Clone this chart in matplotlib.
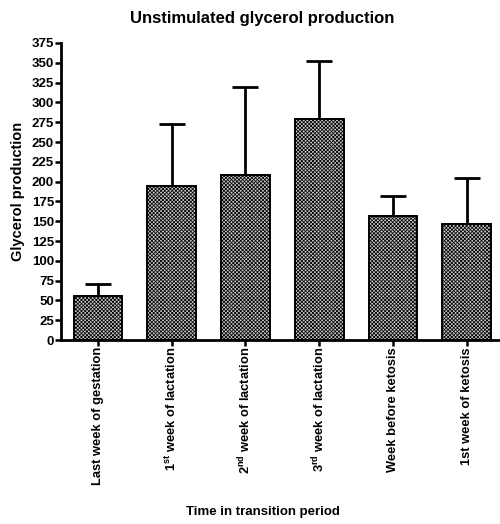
import matplotlib
matplotlib.use("Agg")
import matplotlib.pyplot as plt

plt.rcParams['font.family'] = ['Liberation Sans', 'DejaVu Sans']
plt.rcParams['font.weight'] = 'bold'
plt.rcParams['mathtext.fontset'] = 'custom'
plt.rcParams['mathtext.rm'] = 'Liberation Sans:bold'
plt.rcParams['mathtext.bf'] = 'Liberation Sans:bold'
plt.rcParams['hatch.linewidth'] = 0.55
plt.rcParams['hatch.color'] = '#6a6a6a'

# Mean glycerol production per period, with the upper SD
periods = ["Last week of gestation",
           r"1$^{\mathrm{st}}$ week of lactation",
           r"2$^{\mathrm{nd}}$ week of lactation",
           r"3$^{\mathrm{rd}}$ week of lactation",
           "Week before ketosis",
           "1st week of ketosis"]
means = [56, 194, 208, 279, 156, 146]
sd = [15, 79, 111, 73, 26, 58]

fig = plt.figure(figsize=(5.0, 5.24), dpi=100)
ax = fig.add_axes([0.122, 0.351, 0.878, 0.567])

x = list(range(len(means)))
ax.bar(x, means, width=0.66, color='#c6c6c6', edgecolor='black',
       linewidth=1.4, hatch='xxxxxxxxx', zorder=2)
ax.errorbar(x, means, yerr=[[0] * len(sd), sd], fmt='none', ecolor='black',
            elinewidth=2.0, capsize=9.5, capthick=2.0, zorder=1)

ax.set_xlim(-0.5, 5.45)
ax.set_ylim(0, 375)
ax.set_yticks(range(0, 376, 25))
ax.set_xticks(x)
ax.set_xticklabels(periods, rotation=90, fontsize=9.3, fontweight='bold')
for lab in ax.get_yticklabels():
    lab.set_fontsize(9.5)
    lab.set_fontweight('bold')

for side in ['top', 'right']:
    ax.spines[side].set_visible(False)
for side in ['left', 'bottom']:
    ax.spines[side].set_linewidth(2)
ax.tick_params(width=1.8, length=4, pad=1)

ax.set_ylabel("Glycerol production", fontsize=10.5, fontweight='bold', labelpad=5)
fig.text(0.525, 0.012, "Time in transition period", ha='center', va='bottom',
         fontsize=9.5, fontweight='bold')
fig.text(0.525, 0.965, "Unstimulated glycerol production", ha='center',
         va='center', fontsize=12, fontweight='bold')

fig.savefig("out.png", dpi=100)
